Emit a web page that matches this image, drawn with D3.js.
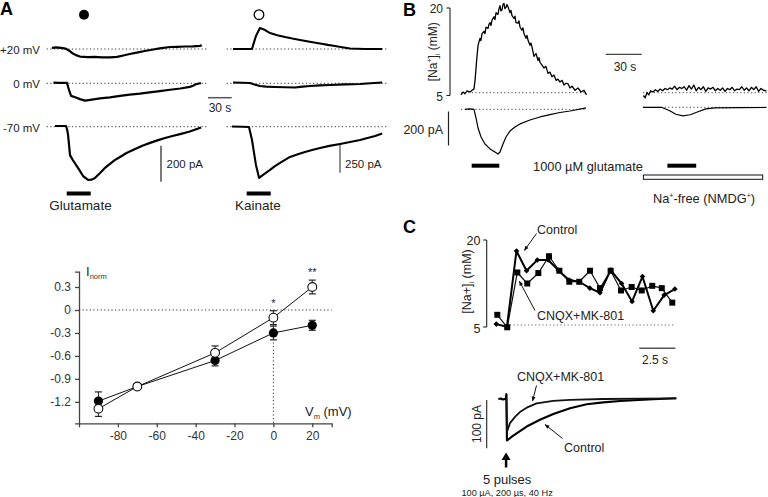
<!DOCTYPE html>
<html><head><meta charset="utf-8">
<script src="https://cdn.jsdelivr.net/npm/d3@7"></script>
<style>
html,body{margin:0;padding:0;background:#fff;}
svg text, svg tspan{font-family:"Liberation Sans",Arial,Helvetica,sans-serif;fill:#222;}
</style></head><body>
<svg id="c" width="768" height="497" xmlns="http://www.w3.org/2000/svg"></svg>
<script>
// ---------------- DATA ----------------
// Panel A traces: [time (s), current (pA)] relative to each trace baseline
const gluP20 = [[6.5,6],[12,9],[18,6],[24,2],[28,-8],[32,-22],[37,-34],[42,-42],[52,-45],[61,-44],[70,-47],[80,-47],[89,-44],[97,-36],[105,-28],[114,-20],[124,-11],[133,-4],[143,3],[156,11],[165,12],[175,14],[185,15],[194,17],[196,22]];
const glu0 = [[8.5,4],[15,2],[25.7,2],[28.2,-37],[30.8,-70],[37,-79],[42,-88],[48.5,-96],[55,-92],[67.5,-84],[80,-78],[92.8,-70],[105,-63],[118,-57],[130,-50],[143,-43],[156,-36],[169,-29],[181,-20],[185,-14],[188,-7],[195,2]];
const glu70 = [[10.5,4],[24.4,4],[26,-20],[27,-46],[29.5,-158],[33,-185],[39.6,-229],[46,-274],[52.3,-296],[57,-294],[61,-285],[67.5,-257],[73,-232],[80,-207],[86,-186],[92.8,-168],[101,-146],[111.8,-124],[121,-106],[130.8,-90],[140,-76],[149.7,-63],[159,-52],[168.7,-41],[180,-28],[195.3,-4]];
const kaiP20 = [[8,0],[20,0],[32,0],[34.5,60],[37,117],[42,189],[48.5,171],[54.8,144],[64,125],[73.8,108],[83,94],[92.8,81],[105,65],[118,50],[128,37],[137,27],[146,16],[156,5],[165,2],[175,0],[186,0],[196.6,0]];
const kai0 = [[8,7],[20,5],[29.5,3],[35,-10],[42,-24],[50,-30],[61,-33],[74,-36],[86.5,-38],[96,-30],[105.4,-24],[118,-19],[130.8,-15],[150,-10],[168.7,-6],[182,0],[196.6,7]];
const kai70 = [[6.7,2],[20,0],[28.2,-3],[32,-120],[37,-345],[41,-462],[46,-435],[54.8,-390],[61,-356],[67.5,-327],[80,-273],[90,-248],[99,-228],[108,-210],[118,-192],[130,-173],[143.4,-156],[156,-138],[168.7,-120],[178,-102],[187.7,-84],[196.6,-61]];
const appA = [25.3, 55.7];           // agonist application (s)
const traceLabels = ["+20 mV", "0 mV", "-70 mV"];

// Panel A I-V plot
const vm = [-90, -70, -30, 0, 20];
const gluMean = [-1.19, -1.0, -0.66, -0.30, -0.20];
const gluErr = [0.12, 0, 0.07, 0.09, 0.065];
const kaiMean = [-1.29, -1.0, -0.56, -0.10, 0.30];
const kaiErr = [0.10, 0, 0.09, 0.09, 0.09];
const ivYTicks = [0.3, 0, -0.3, -0.6, -0.9, -1.2];
const ivXTicks = [-80, -60, -40, -20, 0, 20];
const ivStars = [["*", 0, -0.10, 0.09], ["**", 20, 0.30, 0.09]];

// Panel B: [time (s), [Na+]i (mM)] and [time (s), current (pA)]
const naLeft = [[0,5.1],[1.7,5.6],[3.3,5.3],[5,5.8],[7.5,5.6],[9.2,5.9],[10.8,6.1],[11.7,7.6],[12.9,10.7],[14.2,13.6],[15.8,14.8],[16.6,14.4],[17.5,15.6],[19.2,16.0],[20,15.6],[20.8,16.7],[22.5,16.5],[23.3,17.2],[24.2,17.5],[25,17.0],[25.8,17.9],[27.5,18.5],[28.3,18.0],[29.2,19.2],[30.8,18.9],[31.6,19.8],[32.5,20.4],[33.3,19.5],[34.2,19.7],[35,20.6],[35.8,20.8],[36.6,19.9],[37.5,20.1],[38.3,20.6],[39.2,20.2],[40.8,19.2],[41.6,19.6],[42.5,18.7],[44.2,18.2],[45,18.6],[45.8,17.5],[47.5,17.4],[48.3,17.8],[49.2,16.7],[50.8,16.2],[51.6,16.6],[52.5,15.6],[54.2,14.8],[55,15.3],[55.8,14.5],[57.5,13.6],[58.3,14.0],[59.2,13.3],[60.8,11.7],[62.5,12.2],[64.2,11.0],[65,11.5],[65.8,10.7],[67.5,10.2],[69.2,9.7],[70.8,10.0],[72.5,8.8],[74.2,9.0],[75.8,8.2],[77.5,8.5],[79.2,7.6],[80.8,7.8],[82.5,7.3],[84.2,7.6],[85.8,6.8],[87.5,7.1],[89.2,7.0],[90.8,6.3],[92.5,6.6],[95,5.9],[97.5,6.3],[100,5.6],[102.5,5.9],[104.6,5.1]];
const naRight = [[152,5.0],[153.5,4.6],[155,5.5],[156.5,5.1],[158,5.8],[160,5.6],[162,6.0],[164,5.7],[166,6.1],[168,5.8],[170,6.2],[172,6.0],[174,6.3],[176,6.1],[178,6.6],[180,6.0],[182,6.4],[184,6.2],[186,6.5],[188,5.9],[190,6.7],[192,6.1],[194,6.8],[196,5.8],[198,6.4],[200,6.0],[202,6.5],[204,5.7],[206,6.3],[208,6.1],[210,6.4],[212,5.8],[214,6.2],[216,5.9],[218,6.3],[220,5.7],[222,6.2],[224,6.0],[226,6.4],[228,5.8],[230,6.1],[232,6.0],[234,6.5],[236,5.9],[238,6.3],[240,5.8],[242,6.4],[244,6.0],[246,6.5],[248,5.7],[250,6.2],[252,5.9],[254.5,5.8]];
const iLeftB = [[3.3,0],[7.5,2],[10.8,0],[12.5,-51],[14.2,-110],[16.7,-163],[20,-204],[24.2,-233],[28.3,-251],[30.8,-263],[32.5,-251],[35,-204],[37.5,-163],[40.8,-128],[45,-104],[49.2,-86],[57.5,-63],[65.8,-45],[74.2,-31],[82.5,-19],[90.8,-10],[104.2,8]];
const iRightB = [[151.7,0],[160,0],[167.5,-1],[174,-20],[179,-41],[185,-50],[191,-44],[197.5,-26],[204,-9],[211.7,-3],[232.5,-2],[254.2,-1]];
const appB = [[8.9, 31.9], [172, 196]];
const naFreeB = [152, 251.4];
const naBaseB = 5.48;

// Panel C
const tCtrl = [0,0.74,1.4,2.1,2.85,3.6,4.3,5.05,5.76,6.5,7.2,7.94,8.7,9.43,10.15,10.9,11.66,12.4];
const naCtrl = [5.5,5.05,18.1,14.7,16.55,16.55,14.8,13.1,12.8,11.7,10.9,14.8,12.5,9.4,13.7,7.8,10.5,11.55];
const tCnqx = [0.07,0.76,1.46,2.15,2.92,3.66,4.38,5.07,5.76,6.51,7.2,7.94,8.66,9.4,10.1,10.83,11.49,12.22];
const naCnqx = [7.1,4.95,14.4,12.5,14.3,17.2,14.7,12.8,12.8,14.7,11.7,14.7,11.3,11.9,11.3,12.1,11.7,9.2];
const naBaseC = 5.35;
const iCtrl = [[0.14,0],[0.3,1],[0.45,-1],[0.6,0],[0.66,0],[0.70,10],[0.74,-86],[1.08,-78],[1.41,-71],[2.11,-57],[3.03,-43],[3.96,-31],[5.12,-19],[6.28,-11],[7.43,-7],[8.6,-4],[10.9,-0.6],[12.5,1.5]];
const iCnqx = [[0.70,10],[0.74,-68],[0.95,-50],[1.3,-37],[1.64,-27],[2.11,-18],[2.8,-9],[3.96,-4],[5.12,-2],[7.43,0],[12.5,1.5]];
const stimT = 0.68;

// ---------------- DRAW ----------------
const svg = d3.select("#c");
const FONT = '"Liberation Sans",Arial,Helvetica,sans-serif';
function txt(x, y, s, opt = {}) {
  const t = svg.append("text").attr("x", x).attr("y", y).text(s)
    .attr("font-size", opt.size || 12)
    .attr("text-anchor", opt.anchor || "start")
    .attr("dominant-baseline", "central");
  if (opt.weight) t.attr("font-weight", opt.weight);
  if (opt.fill) t.style("fill", opt.fill);
  return t;
}
function hline(x1, x2, y, dotted, color, w) {
  const l = svg.append("line").attr("x1", x1).attr("x2", x2).attr("y1", y).attr("y2", y)
    .attr("stroke", color || "#333").attr("stroke-width", w || 1);
  if (dotted) l.attr("stroke-dasharray", "1.2,2.4");
  return l;
}
function vline(x, y1, y2, color, w) {
  return svg.append("line").attr("x1", x).attr("x2", x).attr("y1", y1).attr("y2", y2)
    .attr("stroke", color || "#333").attr("stroke-width", w || 1.2);
}
function trace(data, xs, ys, w, color) {
  svg.append("path").datum(data)
    .attr("d", d3.line().x(d => xs(d[0])).y(d => ys(d[1])))
    .attr("fill", "none").attr("stroke", color || "#000").attr("stroke-width", w)
    .attr("stroke-linejoin", "round");
}

// Panel letters
txt(0, 9, "A", {size: 18, weight: "bold", fill: "#000"});
txt(403, 10, "B", {size: 18, weight: "bold", fill: "#000"});
txt(403, 227, "C", {size: 18, weight: "bold", fill: "#000"});

// ---- Panel A traces ----
const xL = d3.scaleLinear().domain([0, 204]).range([46.7, 208]);
const xR = d3.scaleLinear().domain([0, 204]).range([226.7, 388]);
const bases = [49, 83.3, 126.7];
const yL = bases.map(b => d3.scaleLinear().domain([-200, 0]).range([b + 36, b]));
const yR = bases.map(b => d3.scaleLinear().domain([-250, 0]).range([b + 27.7, b]));
svg.append("circle").attr("cx", 84).attr("cy", 14.7).attr("r", 5).attr("fill", "#000");
svg.append("circle").attr("cx", 259).attr("cy", 14.7).attr("r", 4.8).attr("fill", "#fff").attr("stroke", "#000").attr("stroke-width", 1.3);
bases.forEach((b, i) => {
  hline(xL.range()[0], xL.range()[1], b, true);
  hline(xR.range()[0], xR.range()[1], b, true);
  txt(40, b + 1, traceLabels[i], {size: 11.5, anchor: "end"});
});
[gluP20, glu0, glu70].forEach((d, i) => trace(d, xL, yL[i], 2.2));
[kaiP20, kai0, kai70].forEach((d, i) => trace(d, xR, yR[i], 2.1));
// scale bars
hline(208, 208 + (xL(30) - xL(0)), 97.7, false, "#555", 1.5);
txt(220, 107.5, "30 s", {size: 12, anchor: "middle"});
vline(161, 181.7, 181.7 - (yL[2](-200) - yL[2](0)), "#333", 1.3);
txt(166.5, 164, "200 pA", {size: 11.5});
vline(340, 172.7, 172.7 - (yR[2](-250) - yR[2](0)), "#555", 1.3);
txt(345, 164, "250 pA", {size: 11.5});
// application bars
svg.append("rect").attr("x", xL(appA[0])).attr("width", xL(appA[1]) - xL(appA[0])).attr("y", 191.5).attr("height", 4).attr("fill", "#000");
svg.append("rect").attr("x", xR(appA[0])).attr("width", xR(appA[1]) - xR(appA[0])).attr("y", 191.5).attr("height", 4).attr("fill", "#000");
txt(80.5, 205, "Glutamate", {size: 13.5, anchor: "middle"});
txt(258, 205, "Kainate", {size: 13.5, anchor: "middle"});

// ---- Panel A I-V plot ----
const xIV = d3.scaleLinear().domain([-100, 30]).range([79, 331.7]);
const yIV = d3.scaleLinear().domain([-1.48, 0.5]).range([423.3, 271.7]);
const axY = svg.append("g").attr("transform", `translate(${xIV(-100)},0)`)
  .call(d3.axisLeft(yIV).tickValues(ivYTicks).tickSizeOuter(0).tickSize(4)
    .tickFormat(d => d === 0 ? "0" : d.toFixed(1)));
const axX = svg.append("g").attr("transform", `translate(0,${yIV(-1.48)})`)
  .call(d3.axisBottom(xIV).tickValues(ivXTicks).tickSizeOuter(0).tickSize(4)
    .tickFormat(d => String(d)));
[axX, axY].forEach(a => {
  a.selectAll("path,line").attr("stroke", "#444").attr("stroke-width", 1.3);
  a.selectAll("text").attr("font-size", 12).attr("font-family", FONT).style("fill", "#333");
});
axY.selectAll("text").attr("x", -8);
axX.selectAll("text").attr("y", 8);
hline(xIV(-100), xIV(30), yIV(0), true);
vline(xIV(0), yIV(0), yIV(-1.48), "#333", 1).attr("stroke-dasharray", "1.2,2.4");
// I_norm label
const tI = svg.append("text").attr("x", 86).attr("y", 276).attr("font-size", 13);
tI.append("tspan").text("I").style("fill", "#222");
tI.append("tspan").text("norm").attr("font-size", 7.5).attr("dy", 3).style("fill", "#333");
const tV = svg.append("text").attr("x", 305).attr("y", 416).attr("font-size", 13);
tV.append("tspan").text("V").style("fill", "#222");
tV.append("tspan").text("m").attr("font-size", 7.5).attr("dy", 3).style("fill", "#333");
tV.append("tspan").text(" (mV)").attr("dy", -3).style("fill", "#222");
const ivLine = d3.line().x(d => xIV(d[0])).y(d => yIV(d[1]));
const gluPts = vm.map((v, i) => [v, gluMean[i], gluErr[i]]);
const kaiPts = vm.map((v, i) => [v, kaiMean[i], kaiErr[i]]);
[gluPts, kaiPts].forEach(pts => {
  svg.append("path").datum(pts).attr("d", ivLine).attr("fill", "none").attr("stroke", "#111").attr("stroke-width", 1);
});
[gluPts, kaiPts].forEach(pts => {
  pts.filter(p => p[2] > 0).forEach(p => {
    const x = xIV(p[0]);
    vline(x, yIV(p[1] - p[2]), yIV(p[1] + p[2]), "#222", 1);
    hline(x - 3.5, x + 3.5, yIV(p[1] + p[2]), false, "#222", 1.2);
    hline(x - 3.5, x + 3.5, yIV(p[1] - p[2]), false, "#222", 1.2);
  });
});
svg.selectAll(".mg").data(gluPts).enter().append("circle")
  .attr("cx", d => xIV(d[0])).attr("cy", d => yIV(d[1])).attr("r", 4.6).attr("fill", "#000");
svg.selectAll(".mk").data(kaiPts).enter().append("circle")
  .attr("cx", d => xIV(d[0])).attr("cy", d => yIV(d[1])).attr("r", 4.4)
  .attr("fill", "#fff").attr("stroke", "#111").attr("stroke-width", 1.1);
ivStars.forEach(s => txt(xIV(s[1]), yIV(s[2] + s[3]) - 8, s[0], {size: 11, anchor: "middle", fill: "#222"}));

// ---- Panel B ----
const xB = d3.scaleLinear().domain([0, 100]).range([461, 581]);
const yNa = d3.scaleLinear().domain([5, 20]).range([95.5, 8]);
const yIBL = d3.scaleLinear().domain([-200, 0]).range([109.3 + 34, 109.3]);
const yIBR = d3.scaleLinear().domain([-200, 0]).range([107.3 + 34, 107.3]);
vline(450, yNa(20), yNa(5), "#222", 1.1);
hline(446.5, 450, yNa(20), false, "#222", 1.1);
hline(446.5, 450, yNa(5), false, "#222", 1.1);
txt(443, yNa(20) + 1, "20", {size: 12, anchor: "end"});
txt(443, yNa(5) + 1, "5", {size: 12, anchor: "end"});
const lb = svg.append("text").attr("transform", `translate(437,${(yNa(20) + yNa(5)) / 2}) rotate(-90)`)
  .attr("text-anchor", "middle").attr("font-size", 12);
lb.append("tspan").text("[Na");
lb.append("tspan").text("+").attr("font-size", 7).attr("dy", -5);
lb.append("tspan").text("]").attr("dy", 5);
lb.append("tspan").text("i").attr("font-size", 7).attr("dy", 3);
lb.append("tspan").text(" (mM)").attr("dy", -3);
hline(xB(0), xB(104.6), yNa(naBaseB), true, "#444");
hline(xB(151.7), xB(254.7), yNa(naBaseB), true, "#444");
hline(xB(0), xB(104.6), yIBL(0), true, "#444");
hline(xB(151.7), xB(254.7), yIBR(0), true, "#444");
trace(naLeft, xB, yNa, 1.3);
trace(naRight, xB, yNa, 1.3);
trace(iLeftB, xB, yIBL, 1.2);
trace(iRightB, xB, yIBR, 1.2);
hline(605.7, 605.7 + (xB(30) - xB(0)), 54.3, false, "#444", 1.2);
txt(625, 67, "30 s", {size: 12, anchor: "middle"});
vline(448.5, 145.5, 145.5 - (yIBL(-200) - yIBL(0)), "#222", 1.2);
txt(443, 130, "200 pA", {size: 12.5, anchor: "end"});
appB.forEach(a => svg.append("rect").attr("x", xB(a[0])).attr("width", xB(a[1]) - xB(a[0]))
  .attr("y", 163.7).attr("height", 4).attr("fill", "#000"));
const tg = svg.append("text").attr("x", 588).attr("y", 166).attr("text-anchor", "middle")
  .attr("dominant-baseline", "central").attr("font-size", 12.8);
tg.text("1000 \u00B5M glutamate");
svg.append("rect").attr("x", xB(naFreeB[0])).attr("width", xB(naFreeB[1]) - xB(naFreeB[0]))
  .attr("y", 175).attr("height", 4.3).attr("fill", "#fff").attr("stroke", "#111").attr("stroke-width", 1);
const tn = svg.append("text").attr("x", 704).attr("y", 203).attr("text-anchor", "middle")
  .attr("font-size", 12.8);
tn.append("tspan").text("Na");
tn.append("tspan").text("+").attr("font-size", 7).attr("dy", -5);
tn.append("tspan").text("-free (NMDG").attr("dy", 5);
tn.append("tspan").text("+").attr("font-size", 7).attr("dy", -5);
tn.append("tspan").text(")").attr("dy", 5);

// ---- Panel C ----
const xC = d3.scaleLinear().domain([0, 2.5]).range([496.3, 532.3]);
const yC = d3.scaleLinear().domain([5, 20]).range([327, 240]);
const yCI = d3.scaleLinear().domain([-100, 0]).range([399 + 48.3, 399]);
vline(486.7, yC(20), yC(5), "#222", 1.1);
hline(483.2, 486.7, yC(20), false, "#222", 1.1);
hline(483.2, 486.7, yC(5), false, "#222", 1.1);
txt(480.5, yC(20) + 1, "20", {size: 12.5, anchor: "end"});
txt(480.5, yC(5) + 2, "5", {size: 12.5, anchor: "end"});
const lc = svg.append("text").attr("transform", `translate(471,${(yC(20) + yC(5)) / 2 - 2}) rotate(-90)`)
  .attr("text-anchor", "middle").attr("font-size", 12.5);
lc.append("tspan").text("[Na+]");
lc.append("tspan").text("i").attr("font-size", 7).attr("dy", 3);
lc.append("tspan").text(" (mM)").attr("dy", -3);
hline(xC(0.95), xC(12.4), yC(naBaseC), true, "#666");
const cn = tCnqx.map((t, i) => [t, naCnqx[i]]);
const ct = tCtrl.map((t, i) => [t, naCtrl[i]]);
trace(cn, xC, yC, 1.2, "#111");
trace(ct, xC, yC, 2, "#000");
svg.selectAll(".sq").data(cn).enter().append("rect")
  .attr("x", d => xC(d[0]) - 3).attr("y", d => yC(d[1]) - 3).attr("width", 6).attr("height", 6).attr("fill", "#000");
svg.selectAll(".dm").data(ct).enter().append("path")
  .attr("d", d => `M${xC(d[0])},${yC(d[1]) - 2.8}l2.8,2.8l-2.8,2.8l-2.8,-2.8z`).attr("fill", "#000");
// arrows
svg.append("defs").append("marker").attr("id", "ah").attr("viewBox", "0 0 10 10").attr("refX", 9).attr("refY", 5)
  .attr("markerWidth", 5).attr("markerHeight", 5).attr("orient", "auto")
  .append("path").attr("d", "M0,1L10,5L0,9z").attr("fill", "#111");
function arrow(x1, y1, x2, y2) {
  svg.append("line").attr("x1", x1).attr("y1", y1).attr("x2", x2).attr("y2", y2)
    .attr("stroke", "#111").attr("stroke-width", 1).attr("marker-end", "url(#ah)");
}
txt(537, 229.5, "Control", {size: 12.5});
arrow(536.5, 233.5, xC(1.95), yC(18.2));
txt(537, 315.5, "CNQX+MK-801", {size: 12.5});
arrow(535, 310.5, xC(1.6), yC(12.9));
hline(639.3, 639.3 + (xC(2.5) - xC(0)), 348.3, false, "#555", 1.4);
txt(655, 360, "2.5 s", {size: 12, anchor: "middle"});
// currents
trace(iCtrl, xC, yCI, 2.1, "#000");
trace(iCnqx, xC, yCI, 1.8, "#111");
vline(486.7, 400, 400 + (yCI(-100) - yCI(0)), "#222", 1.1);
svg.append("text").attr("transform", "translate(477,424) rotate(-90)").attr("text-anchor", "middle")
  .attr("dominant-baseline", "central").attr("font-size", 12).text("100 pA");
txt(517, 376.5, "CNQX+MK-801", {size: 12.5});
arrow(536.5, 385.5, 532.5, 401);
txt(564, 448, "Control", {size: 12.5});
arrow(562.5, 438.5, 545, 424.5);
// stimulus arrow
const sx = xC(stimT);
vline(sx, 467.5, 459, "#000", 2.5);
svg.append("path").attr("d", `M${sx - 4.5},460L${sx},452.5L${sx + 4.5},460z`).attr("fill", "#000");
txt(sx + 1, 479, "5 pulses", {size: 13, anchor: "middle"});
txt(sx + 1, 493, "100 \u00B5A, 200 \u00B5s, 40 Hz", {size: 9.2, anchor: "middle"});
</script>
</body></html>
